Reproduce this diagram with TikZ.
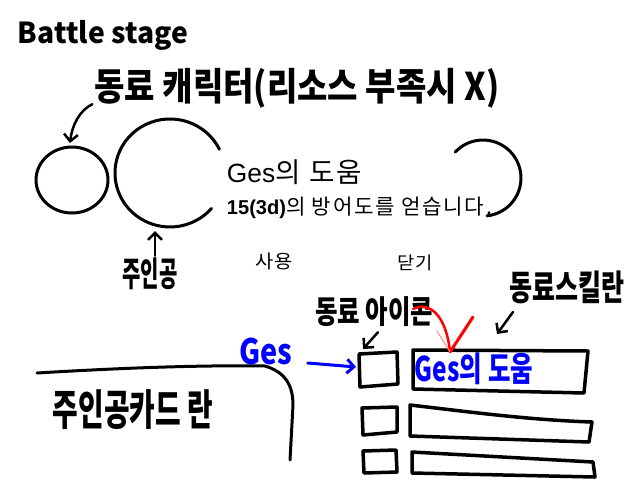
\documentclass[tikz,border=0pt]{standalone}
\usepackage{fontspec}
\setmainfont{Liberation Sans}
\newfontfamily\kr{Noto Sans CJK KR}
\newfontfamily\krsm{Noto Sans CJK KR}[LetterSpace=8]
\usepackage{graphicx}
\usetikzlibrary{arrows.meta}
\tikzset{
  ink/.style={line width=3pt, line cap=round, line join=round},
  box/.style={line width=3.5pt, line cap=round, line join=round},
  hand/.style={inner sep=0pt, font=\kr\bfseries},
  plain/.style={inner sep=0pt},
  barb/.style={-{Straight Barb[length=7pt,width=14pt]}, line width=2.5pt, line cap=round, line join=round},
}
\begin{document}
\begin{tikzpicture}[x=1pt,y=1pt]
\fill[white] (0,0) rectangle (640,-480);
\useasboundingbox (0,0) rectangle (640,-480);

% handwritten headings
\node[hand] (title) at (103,-35) {\resizebox*{170pt}{30pt}{Battle stage}};
\node[hand] (allylbl) at (297,-88) {\resizebox*{405pt}{40pt}{동료 캐릭터(리소스 부족시 X)}};

% character circles
\draw[ink] (72,-180) ellipse [x radius=36, y radius=33];
\coordinate (ally) at (70,-143);
\draw[ink] (219.4,-149.3) arc[start angle=26, end angle=319, x radius=55, y radius=54];
\draw[ink] (455.2,-152.1) arc[start angle=137, end angle=-84, radius=38];

% arrow to ally
\draw[barb] ([shift={(-2,4)}]allylbl.south west) .. controls (80,-110) and (72,-125) .. (ally);

% printed popup text
\node[plain] (gestitle) at (294.5,-172) {\resizebox{135pt}{!}{\fontsize{21}{21}\selectfont Ges{\krsm\fontsize{22}{22}\selectfont 의 도움}}};
\node[plain] (gesdesc) at (359.5,-208) {\resizebox{265pt}{!}{\fontsize{18}{18}\selectfont\textbf{15(3d)}{\krsm\fontsize{19}{19}\selectfont 의 방어도를 얻습니다.}}};
\node[plain] (use) at (274,-261.5) {\resizebox*{38pt}{17pt}{\krsm 사용}};
\node[plain] (close) at (415,-262.5) {\resizebox*{36pt}{16pt}{\krsm 닫기}};

% hero label
\node[hand] (herolbl) at (150,-274) {\resizebox*{55pt}{32pt}{주인공}};
\coordinate (hero) at (155,-231);
\draw[barb] ([xshift=5pt,yshift=2pt]herolbl.north) -- (hero);

% hero card area
\draw[ink] (37,-373) .. controls (120,-368) and (200,-365) .. (265,-366)
  .. controls (285,-372) and (293,-385) .. (293,-405) -- (290,-460);
\node[hand] (cardlbl) at (133,-410) {\resizebox*{160pt}{40pt}{주인공카드 란}};

% icons
\draw[box] (359,-354) -- (397,-352) -- (398,-384) -- (360,-387) -- cycle;
\draw[box] (362,-408) -- (397,-407) -- (397,-432) -- (363,-435) -- cycle;
\draw[box] (363,-451) -- (396,-450) -- (397,-472) -- (364,-473) -- cycle;
\coordinate (icon1) at (356,-367);
\coordinate (icon1top) at (363,-349);

% skill rows
\draw[box] (413,-350) -- (588,-351) -- (584,-393) -- (413,-389) -- cycle;
\draw[box] (410,-405) .. controls (470,-412) and (530,-420) .. (592,-422) -- (589,-442) -- (410,-436) -- cycle;
\draw[box] (412,-452) -- (593,-462) -- (595,-477) -- (412,-473) -- cycle;
\coordinate (skill1) at (497,-334);
\coordinate (redtip) at (450,-352);

% labels of icons / skills
\node[hand] (iconlbl) at (374,-312) {\resizebox*{118pt}{30pt}{동료 아이콘}};
\draw[barb] ([shift={(4,-5)}]iconlbl.south) -- (icon1top);
\node[hand] (skilllbl) at (567,-287) {\resizebox*{115pt}{33pt}{동료스킬란}};
\draw[barb] ([shift={(-54,-25)}]skilllbl.center) -- (skill1);

% blue Ges
\node[hand, text=blue] (ges) at (266,-351) {\resizebox*{53pt}{27pt}{Ges}};
\draw[barb, blue, line width=3pt] ([shift={(15,-12)}]ges.east) -- (icon1);
\node[hand, text=blue] (skill1txt) at (474,-369) {\resizebox*{118pt}{32pt}{Ges의 도움}};

% red arrow
\draw[red, line width=2.5pt, line cap=round] ([shift={(-20,3)}]iconlbl.east) .. controls (432,-300) and (447,-320) .. (redtip);
\draw[red, line width=3pt, line cap=round] (redtip) -- (473,-317);
\draw[red!45, line width=1pt, line cap=round] (redtip) -- (437,-331);
\end{tikzpicture}
\end{document}
